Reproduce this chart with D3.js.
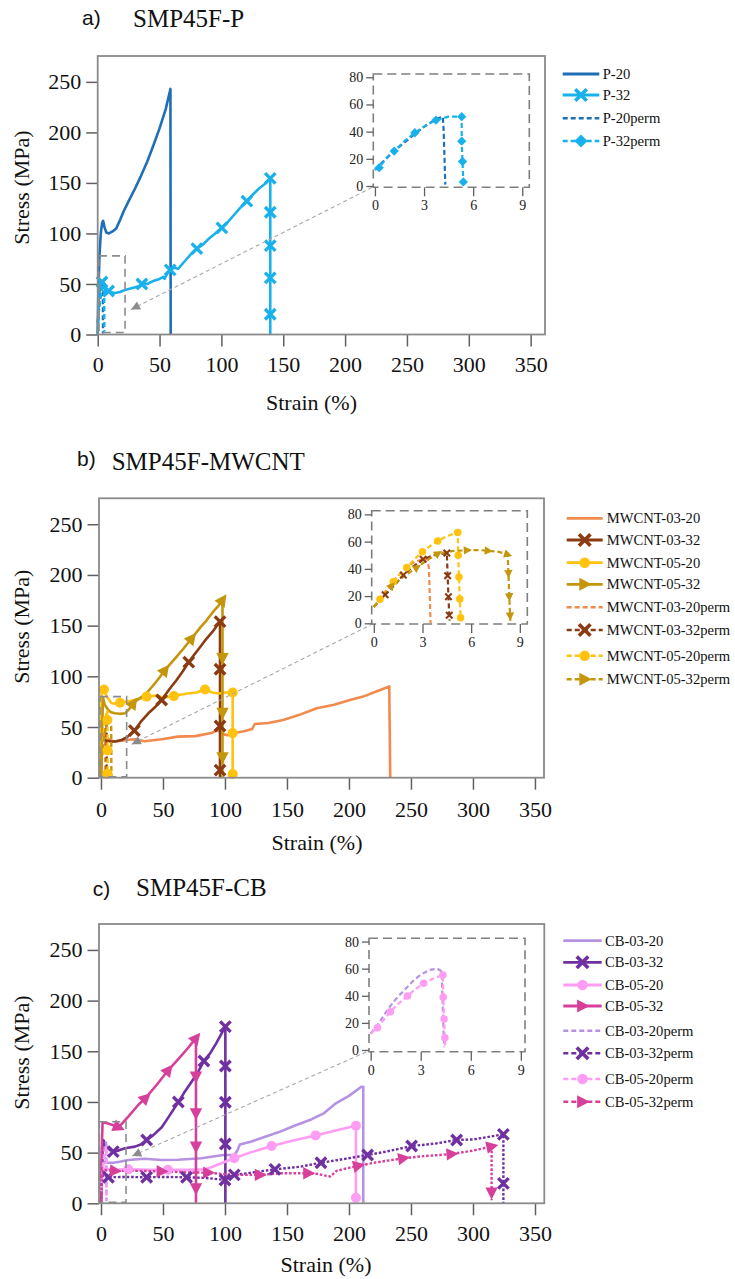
<!DOCTYPE html>
<html>
<head>
<meta charset="utf-8">
<script src="https://cdn.jsdelivr.net/npm/d3@7"></script>
<style>
  body { margin: 0; background: #fff; }
  svg { display: block; }
</style>
</head>
<body>
<svg id="fig" width="735" height="1279"></svg>
<script>
// ---------- axis ticks ----------
const strainTicks = [0, 50, 100, 150, 200, 250, 300, 350];
const stressTicks = [0, 50, 100, 150, 200, 250];
const insetStrainTicks = [0, 3, 6, 9];
const insetStressTicks = [0, 20, 40, 60, 80];

// ---------- SMP45F-P : [strain %, stress MPa] ----------
const p20 = [[0,0],[0.5,40],[1.5,80],[2.5,100],[3.5,110],[4.4,112.5],[5.5,106],[7,101],[9,100],[12,102],[15,105],[18,113],[21,122],[25,132],[30,144],[35,157],[40,171],[45,187],[50,204],[55,223],[58.8,243],[59,0]];
const p32 = [[0,0],[1,35],[2,47],[3.5,52],[5,46],[7,43],[10,42],[14,41],[18,42],[22,44],[28,46],[34,48],[36,51],[40,50],[45,53],[50,55],[53,57],[54,55],[56,60],[58.6,64],[62,66],[65,65],[70,72],[75,79],[80,85],[85,89],[90,95],[95,100],[100,105.5],[105,111],[110,118],[115,125],[120.6,132],[125,138],[130,144],[135,149],[139.5,154.5],[139.5,0]];
const p32Marks = [[3.5,52],[8.8,43],[35.7,50],[58.6,64],[80.2,85],[100.4,105.5],[120.6,132],[139.5,154.5],[139.5,121],[139.5,88],[139.5,56],[139.5,20]];
const p20perm = [[0,12],[0.5,18],[1,24],[1.5,29],[2,34],[2.5,39],[3,43.5],[3.5,47.5],[3.9,50],[4.15,51],[4.2,40],[4.25,20],[4.3,1]];
const p32perm = [[0,12],[0.26,13.5],[0.6,19],[1.18,25.7],[1.8,33],[2.44,39.2],[3.1,44.5],[3.73,48.5],[4.5,51],[5.3,51],[5.3,33],[5.35,18],[5.4,3]];
const p32permMarks = [[0.26,13.5],[1.18,25.7],[2.44,39.2],[3.73,48.5],[5.3,51],[5.3,33],[5.35,18],[5.4,3]];

// ---------- SMP45F-MWCNT ----------
const m0320 = [[0,0],[0.4,30],[1,46],[3,42],[6,38],[11,35.5],[16,36.5],[22,37.5],[28,38],[35,36],[49,38],[62,40.5],[76,41],[89,44],[94,47],[98,43],[102,42],[108,44],[116,46],[122,48],[124,53],[135,54],[147,57],[160,62],[174,68.5],[188,72],[200.8,76.6],[211.5,80],[222,85],[232.5,90],[233.3,0]];
const m0332 = [[0,0],[0.5,39],[4,37],[8.6,35.5],[12,36],[16.7,37.2],[21,40],[26.9,46.4],[32,55],[38.2,63.5],[44,70],[48.9,76.7],[55,87],[61,96.4],[66,105],[70.8,114],[75,121],[80,129],[85,137],[90,144],[96,154],[96,0]];
const m0332Marks = [[26.9,46.4],[48.9,76.7],[70.8,114],[96,154],[96,107],[96,51],[96,7.5]];
const m0520 = [[0,0],[0.5,86.5],[2.4,87],[4.6,80],[8.6,73.4],[12,73],[15.3,74],[20,75],[25,76],[32.8,78.3],[36.8,80],[45,81],[50,79],[58.8,80.5],[65,82],[70,83],[77,84],[83.9,87],[90,84],[95,83],[100,84],[106.2,84],[106.2,2]];
const m0520Marks = [[2.4,87],[15.3,74],[36.8,80],[58.8,80.5],[83.9,87],[106.2,84],[106.2,44],[106.2,3.6]];
const m0532 = [[0,0],[0.8,40],[1.6,79],[3,72],[5.9,66.8],[8,64.5],[11.3,63.5],[15,63],[19.4,63.5],[23,68],[26,73.4],[30,77.5],[35.5,81.6],[43.5,93],[51.6,106],[55,111],[60,118],[65,125],[73.2,137.5],[80,148],[85,155],[90,163],[95,170],[98,175.3],[98,0]];
const m0532Marks = [[26,73.4],[51.6,106],[73.2,137.5],[98,175.3],[98,118],[98,64],[98,20]];
const m0320perm = [[0,12],[0.5,20],[1,28],[1.5,35],[2,41],[2.5,45],[3,47],[3.3,47.5],[3.4,40],[3.45,20],[3.5,0]];
const m0332perm = [[0,12],[0.7,21],[1.2,27],[1.82,35.4],[2.4,41.5],[3.04,47],[3.7,50],[4.5,51.7],[4.55,34.9],[4.6,19.5],[4.65,6],[4.67,2]];
const m0332permMarks = [[0.7,21],[1.82,35.4],[3.04,47],[4.5,51.7],[4.55,34.9],[4.6,19.5],[4.65,6]];
const m0520perm = [[0,12],[0.38,17.6],[0.8,24],[1.2,30.5],[1.6,36],[2.03,41],[2.5,47],[3,52.5],[3.5,57],[3.94,60.5],[4.5,64],[5.17,66.7],[5.2,50],[5.25,34],[5.3,17.8],[5.35,4.1]];
const m0520permMarks = [[0.38,17.6],[1.2,30.5],[2.03,41],[3,52.5],[3.94,60.5],[5.17,66.7],[5.2,50],[5.25,34],[5.3,17.8],[5.35,4.1]];
const m0520permMainMarks = [[5.2,57],[5.25,27],[5.3,4]];
const m0532perm = [[0,12],[0.5,19],[1.1,27.5],[1.8,34],[2.66,41],[3.3,46.5],[3.96,51.3],[4.8,53],[5.76,53.7],[6.5,53.8],[7.05,53.2],[7.7,52.5],[8.25,50.5],[8.3,36.6],[8.35,19.5],[8.4,5.4],[8.42,1]];
const m0532permMarks = [[1.1,27.5],[2.66,41],[3.96,51.3],[5.76,53.7],[7.05,53.2],[8.25,50.5],[8.3,36.6],[8.35,19.5],[8.4,5.4]];

// ---------- SMP45F-CB ----------
const c0320 = [[0,0],[0.5,25],[1,45],[2,41],[5,40],[10,40],[15,41],[22,42.7],[35,44],[49,42.7],[62,43],[81,44.5],[98.6,47.7],[107.5,47.7],[110,52],[112,58],[121.5,61],[133,66],[143,70],[155,76],[170,83],[180,89],[188.7,98],[200,106],[210,115],[211.5,115],[211.5,0]];
const c0332 = [[0,0],[1,45],[1.9,62.5],[4,56],[7.3,52.6],[9.9,51],[14,52],[19.4,54.3],[27.4,55.9],[32,58],[36.8,62.5],[42,67],[49,75],[55,86],[62.4,100],[67,109],[72,118],[78,129],[83,140.4],[88,148],[93,158],[100.3,174.3],[100.3,0]];
const c0332Marks = [[9.9,51],[36.8,62.5],[62.4,100],[83,140.4],[100.3,174.3],[100.3,135.5],[100.3,99.7],[100.3,58.5]];
const c0520 = [[0,0],[0.5,20],[1,34],[3,34],[10,33],[22,33.5],[40,33],[54,33],[70,33],[84,33.5],[90,36],[97,39.5],[107.5,44.4],[120,50],[137.6,56.5],[155,62],[173.1,67],[190,72],[205.6,76.6],[205.6,5.5]];
const c0520Marks = [[22,33.5],[54,33],[107.5,44.4],[137.6,56.5],[173.1,67],[205.6,76.6],[205.6,5.5]];
const c0532 = [[0,0],[0.5,50],[1.3,80],[5,79],[10,77],[14,75],[18,80],[22,85.5],[30,97],[36,104],[45,117],[54.3,131.5],[60,139],[65,146],[70,153],[76.6,163],[76.6,0]];
const c0532Marks = [[14,75],[36,104],[54.3,131.5],[76.6,163],[76.6,125],[76.6,88.8],[76.6,55.9],[76.6,14.8]];
const c0320perm = [[0,12],[0.5,20],[1,29.5],[1.5,37.5],[2,44],[2.6,51.7],[3,55.5],[3.5,59],[4,60],[4.25,58],[4.3,40],[4.35,20],[4.4,2]];
const c0520perm = [[0,12],[0.4,16.5],[0.8,22.5],[1.18,28.3],[1.7,34.5],[2.2,39.9],[2.7,45],[3.17,49.2],[3.8,53],[4.33,55.4],[4.35,38.9],[4.4,22.9],[4.45,9.1],[4.47,3]];
const c0520permMarks = [[0.4,16.5],[1.18,28.3],[2.2,39.9],[3.17,49.2],[4.33,55.4],[4.35,38.9],[4.4,22.9],[4.45,9.1]];
const c0332perm = [[0,0],[0.5,20],[1.5,28],[6,25.7],[20,26],[36.8,25.7],[50,26],[69,25.7],[85,25],[100,23],[104,26],[107.5,28],[120,30],[140.3,33.5],[160,36],[177.4,40],[195,43.5],[215,47.7],[230,51],[250.5,56.5],[270,59],[286.8,62.5],[300,63],[310,65],[324.5,68],[324.5,0]];
const c0332permMarks = [[6,25.7],[36.8,25.7],[69,25.7],[100,23],[107.5,28],[140.3,33.5],[177.4,40],[215,47.7],[250.5,56.5],[286.8,62.5],[324.5,68],[324.5,19.7]];
const c0532perm = [[0,0],[0.5,25],[1.5,33],[11.3,32],[30,32],[49,31.5],[70,30.5],[86.5,30.2],[102.7,28.5],[115,28],[128.2,28],[145.7,29.6],[167.2,29.6],[175,29],[180,27.5],[185,26.5],[190,32],[200,35],[207.5,37],[220,40],[243.8,44.4],[260,46.5],[282.8,48.6],[300,52],[315,56],[315,3]];
const c0532permMarks = [[11.3,32],[49,31.5],[86.5,30.2],[128.2,28],[167.2,29.6],[207.5,37],[243.8,44.4],[282.8,48.6],[315,56],[315,10.5]];

// zoom windows marked in the main plots: [strainMin, strainMax, stressMin, stressMax]
const zoomBoxA = [1, 22.1, 2, 77.8];
const zoomBoxB = [-0.8, 20.7, 1, 80];
const zoomBoxC = [-1.4, 20.2, 1, 80.5];
// where the pointer arrow ends in each main plot: [strain, stress]
const arrowTipA = [26.9, 24.7];
const arrowTipB = [24.8, 33];
const arrowTipC = [25.2, 46.7];

// ---------- colours ----------
const COL = {
  p20: '#1f6fb6', p32: '#19b1ec',
  m0320: '#f28a4e', m0332: '#8a3b12', m0520: '#ffc20e', m0532: '#c3960d',
  c0320: '#b592e2', c0332: '#7030a0', c0520: '#ff9cf4', c0532: '#d6409b'
};

const SERIF = '"Liberation Serif","Times New Roman",Times,serif';
const SANS = '"Liberation Sans",Arial,sans-serif';
const svg = d3.select('#fig');

// arrowhead used by the zoom pointer (points back toward the zoom window)
svg.append('defs').append('marker')
  .attr('id', 'arrowHead').attr('viewBox', '0 0 10 10')
  .attr('refX', 10).attr('refY', 5)
  .attr('markerWidth', 10).attr('markerHeight', 9)
  .attr('markerUnits', 'userSpaceOnUse')
  .attr('orient', 'auto-start-reverse')
  .append('path').attr('d', 'M0,0 L10,5 L0,10 Z').attr('fill', '#8c8c8c');

// direction (degrees) of the curve at a marker, in screen space
function dirAt(pts, m, xs, ys) {
  let best = Infinity, ang = 0;
  const mx = xs(m[0]), my = ys(m[1]);
  for (let i = 0; i < pts.length - 1; i++) {
    const ax = xs(pts[i][0]), ay = ys(pts[i][1]);
    const bx = xs(pts[i + 1][0]), by = ys(pts[i + 1][1]);
    const dx = bx - ax, dy = by - ay, L2 = dx * dx + dy * dy;
    if (L2 === 0) continue;
    let t = ((mx - ax) * dx + (my - ay) * dy) / L2;
    t = Math.max(0, Math.min(1, t));
    const d = Math.hypot(ax + t * dx - mx, ay + t * dy - my);
    if (d < best - 0.5) { best = d; ang = Math.atan2(dy, dx) * 180 / Math.PI; }
  }
  return ang;
}

function drawMarker(g, type, px, py, size, color, ang) {
  if (type === 'x') {
    const a = size * 0.5;
    g.append('path')
      .attr('d', `M${-a},${-a}L${a},${a}M${-a},${a}L${a},${-a}`)
      .attr('transform', `translate(${px},${py})`)
      .attr('stroke', color).attr('stroke-width', size * 0.32).attr('fill', 'none');
  } else if (type === 'circle') {
    g.append('circle').attr('cx', px).attr('cy', py).attr('r', size * 0.5).attr('fill', color);
  } else if (type === 'diamond') {
    const r = size * 0.55;
    g.append('path').attr('d', `M0,${-r}L${r},0L0,${r}L${-r},0Z`)
      .attr('transform', `translate(${px},${py})`).attr('fill', color);
  } else if (type === 'tri') {
    const r = size * 0.55;
    g.append('path').attr('d', `M${r},0L${-r * 0.75},${-r * 0.9}L${-r * 0.75},${r * 0.9}Z`)
      .attr('transform', `translate(${px},${py}) rotate(${ang || 0})`).attr('fill', color);
  }
}

const DASH = { solid: null, dash: '5,3', dot: '2.6,1.8' };

function drawPanel(cfg) {
  const f = cfg.frame;
  const x = d3.scaleLinear().domain([f.x0, f.x1]).range([f.L, f.R]);
  const y = d3.scaleLinear().domain([0, f.y1]).range([f.B, f.T]);
  const g = svg.append('g');

  // titles
  g.append('text').attr('x', cfg.tag.x).attr('y', cfg.tag.y)
    .attr('font-family', SANS).attr('font-size', 21).attr('fill', '#111').text(cfg.tag.text);
  g.append('text').attr('x', cfg.title.x).attr('y', cfg.title.y)
    .attr('font-family', SERIF).attr('font-size', 25).attr('fill', '#111').text(cfg.title.text);

  // axes
  const ax = g.append('g').attr('transform', `translate(0,${f.B})`)
    .call(d3.axisBottom(x).tickValues(strainTicks).tickSize(12).tickSizeOuter(0).tickPadding(cfg.xPad));
  const ay = g.append('g').attr('transform', `translate(${f.L},0)`)
    .call(d3.axisLeft(y).tickValues(stressTicks).tickSize(11.5).tickSizeOuter(0).tickPadding(5));
  [ax, ay].forEach(a => {
    a.attr('font-family', SERIF);
    a.select('.domain').remove();
    a.selectAll('line').attr('stroke', '#606060').attr('stroke-width', 1.5);
    a.selectAll('text').attr('font-family', SERIF).attr('font-size', 22).attr('fill', '#111');
  });

  // axis titles
  g.append('text').attr('transform', `translate(${cfg.yTitle[0]},${cfg.yTitle[1]}) rotate(-90)`)
    .attr('text-anchor', 'middle').attr('dy', '0.35em')
    .attr('font-family', SERIF).attr('font-size', 22).attr('fill', '#111').text('Stress (MPa)');
  g.append('text').attr('x', cfg.xTitle[0]).attr('y', cfg.xTitle[1])
    .attr('text-anchor', 'middle')
    .attr('font-family', SERIF).attr('font-size', 22).attr('fill', '#111').text('Strain (%)');

  const line = d3.line().x(d => x(d[0])).y(d => y(d[1]));

  // main curves
  const curves = g.append('g');
  cfg.series.forEach(s => {
    const dash = s.mainDash || s.dash;
    curves.append('path').attr('d', line(s.pts)).attr('fill', 'none')
      .attr('stroke', s.color)
      .attr('stroke-width', dash === 'solid' ? 2.6 : 2.4)
      .attr('stroke-dasharray', DASH[dash])
      .attr('stroke-linejoin', 'round');
  });
  cfg.series.forEach(s => {
    (s.mainMarks || []).forEach(m => {
      drawMarker(curves, s.marker, x(m[0]), y(m[1]), { x: 10.5, circle: 10, tri: 12.5, diamond: 10 }[s.marker],
        s.color, dirAt(s.pts, m, x, y));
    });
  });

  // frame
  g.append('rect').attr('x', f.L).attr('y', f.T).attr('width', f.R - f.L).attr('height', f.B - f.T)
    .attr('fill', 'none').attr('stroke', '#8a8a8a').attr('stroke-width', 1.8);

  // zoom window and pointer
  const zb = cfg.zoomBox;
  g.append('rect').attr('x', x(zb[0])).attr('y', y(zb[3]))
    .attr('width', x(zb[1]) - x(zb[0])).attr('height', y(zb[2]) - y(zb[3]))
    .attr('fill', 'none').attr('stroke', '#8c8c8c').attr('stroke-width', 1.6).attr('stroke-dasharray', '8,5');

  // inset
  const fi = cfg.inset;
  const xi = d3.scaleLinear().domain([fi.x0, fi.x1]).range([fi.L, fi.R]);
  const yi = d3.scaleLinear().domain([fi.y0, fi.y1]).range([fi.B, fi.T]);

  g.append('line')
    .attr('x1', x(cfg.arrowTip[0])).attr('y1', y(cfg.arrowTip[1]))
    .attr('x2', xi(0)).attr('y2', yi(0))
    .attr('stroke', '#a8a8a8').attr('stroke-width', 1.1).attr('stroke-dasharray', '4,3')
    .attr('marker-start', 'url(#arrowHead)');

  const gi = g.append('g');
  gi.append('rect').attr('x', fi.L).attr('y', fi.T).attr('width', fi.R - fi.L).attr('height', fi.B - fi.T)
    .attr('fill', '#fff').attr('stroke', '#7f7f7f').attr('stroke-width', 1.6).attr('stroke-dasharray', '9,5');
  const axi = gi.append('g').attr('transform', `translate(0,${fi.B})`)
    .call(d3.axisBottom(xi).tickValues(insetStrainTicks).tickSize(9).tickSizeOuter(0).tickPadding(4));
  const ayi = gi.append('g').attr('transform', `translate(${fi.L},0)`)
    .call(d3.axisLeft(yi).tickValues(insetStressTicks).tickSize(7).tickSizeOuter(0).tickPadding(3));
  [axi, ayi].forEach(a => {
    a.attr('font-family', SERIF);
    a.select('.domain').remove();
    a.selectAll('line').attr('stroke', '#606060').attr('stroke-width', 1.3);
    a.selectAll('text').attr('font-family', SERIF).attr('font-size', 14).attr('fill', '#222');
  });
  const iline = d3.line().x(d => xi(d[0])).y(d => yi(d[1]));
  cfg.series.filter(s => s.insetMarks !== undefined).forEach(s => {
    gi.append('path').attr('d', iline(s.pts)).attr('fill', 'none')
      .attr('stroke', s.color).attr('stroke-width', 2.2)
      .attr('stroke-dasharray', DASH.dash).attr('stroke-linejoin', 'round');
  });
  cfg.series.filter(s => s.insetMarks !== undefined).forEach(s => {
    s.insetMarks.forEach(m => {
      drawMarker(gi, s.marker, xi(m[0]), yi(m[1]), { x: 6.5, circle: 7.5, tri: 8.5, diamond: 8.5 }[s.marker],
        s.color, dirAt(s.pts, m, xi, yi));
    });
  });

  // legend
  const lg = cfg.legend;
  cfg.series.forEach((s, i) => {
    const yy = lg.rows[i];
    g.append('line').attr('x1', lg.x1).attr('x2', lg.x2).attr('y1', yy).attr('y2', yy)
      .attr('stroke', s.color).attr('stroke-width', s.dash === 'solid' ? 2.8 : 2.4)
      .attr('stroke-dasharray', DASH[s.dash === 'solid' ? 'solid' : 'dash']);
    if (s.marker) drawMarker(g, s.marker, (lg.x1 + lg.x2) / 2, yy,
      { x: 11.5, circle: 10.5, tri: 13, diamond: 12 }[s.marker], s.color, 0);
    g.append('text').attr('x', lg.tx).attr('y', yy).attr('dy', '0.35em')
      .attr('font-family', SERIF).attr('font-size', 14.6).attr('fill', '#111').text(s.name);
  });
}

// ---------- panel a ----------
drawPanel({
  tag: { text: 'a)', x: 82, y: 24.5 },
  title: { text: 'SMP45F-P', x: 133, y: 27 },
  frame: { L: 97.7, R: 545, T: 56, B: 334.5, x0: 0, x1: 361.6, y1: 275.6 },
  xPad: 10, yTitle: [21, 187.5], xTitle: [311.5, 410],
  zoomBox: zoomBoxA, arrowTip: arrowTipA,
  inset: { L: 373.3, R: 529.3, T: 74, B: 187.3, x0: -0.1, x1: 9.43, y0: -0.96, y1: 82.4 },
  legend: { x1: 562.7, x2: 599.3, tx: 602.7, rows: [74, 95, 118.3, 141] },
  series: [
    { name: 'P-20', color: COL.p20, dash: 'solid', marker: null, pts: p20 },
    { name: 'P-32', color: COL.p32, dash: 'solid', marker: 'x', pts: p32, mainMarks: p32Marks },
    { name: 'P-20perm', color: COL.p20, dash: 'dash', marker: null, pts: p20perm, insetMarks: [] },
    { name: 'P-32perm', color: COL.p32, dash: 'dash', marker: 'diamond', pts: p32perm, insetMarks: p32permMarks }
  ]
});

// ---------- panel b ----------
drawPanel({
  tag: { text: 'b)', x: 77, y: 465.5 },
  title: { text: 'SMP45F-MWCNT', x: 111.7, y: 470 },
  frame: { L: 99, R: 544, T: 498.3, B: 777.7, x0: -1.6, x1: 357.3, y1: 275.6 },
  xPad: 11.5, yTitle: [21, 626.7], xTitle: [317, 850],
  zoomBox: zoomBoxB, arrowTip: arrowTipB,
  inset: { L: 371.7, R: 527.3, T: 510.7, B: 624, x0: -0.13, x1: 9.46, y0: -0.5, y1: 82.7 },
  legend: { x1: 566.7, x2: 602.7, tx: 606.7, rows: [518.3, 540, 562.7, 584.3, 607.3, 630, 655.7, 679.3] },
  series: [
    { name: 'MWCNT-03-20', color: COL.m0320, dash: 'solid', marker: null, pts: m0320 },
    { name: 'MWCNT-03-32', color: COL.m0332, dash: 'solid', marker: 'x', pts: m0332, mainMarks: m0332Marks },
    { name: 'MWCNT-05-20', color: COL.m0520, dash: 'solid', marker: 'circle', pts: m0520, mainMarks: m0520Marks },
    { name: 'MWCNT-05-32', color: COL.m0532, dash: 'solid', marker: 'tri', pts: m0532, mainMarks: m0532Marks },
    { name: 'MWCNT-03-20perm', color: COL.m0320, dash: 'dash', marker: null, pts: m0320perm, insetMarks: [] },
    { name: 'MWCNT-03-32perm', color: COL.m0332, dash: 'dash', marker: 'x', pts: m0332perm, insetMarks: m0332permMarks },
    { name: 'MWCNT-05-20perm', color: COL.m0520, dash: 'dash', marker: 'circle', pts: m0520perm, insetMarks: m0520permMarks, mainMarks: m0520permMainMarks },
    { name: 'MWCNT-05-32perm', color: COL.m0532, dash: 'dash', marker: 'tri', pts: m0532perm, insetMarks: m0532permMarks }
  ]
});

// ---------- panel c ----------
drawPanel({
  tag: { text: 'c)', x: 92.7, y: 895.5 },
  title: { text: 'SMP45F-CB', x: 136, y: 896 },
  frame: { L: 99, R: 544.3, T: 924, B: 1203.3, x0: -1.6, x1: 357.5, y1: 275.6 },
  xPad: 10, yTitle: [21, 1052.5], xTitle: [326, 1271.7],
  zoomBox: zoomBoxC, arrowTip: arrowTipC,
  inset: { L: 369, R: 525, T: 938.3, B: 1051.7, x0: -0.1, x1: 9.25, y0: -1.25, y1: 82.4 },
  legend: { x1: 563.3, x2: 601.7, tx: 605, rows: [940.7, 962.3, 985, 1006, 1030.7, 1053.3, 1079, 1101.7] },
  series: [
    { name: 'CB-03-20', color: COL.c0320, dash: 'solid', marker: null, pts: c0320 },
    { name: 'CB-03-32', color: COL.c0332, dash: 'solid', marker: 'x', pts: c0332, mainMarks: c0332Marks },
    { name: 'CB-05-20', color: COL.c0520, dash: 'solid', marker: 'circle', pts: c0520, mainMarks: c0520Marks },
    { name: 'CB-05-32', color: COL.c0532, dash: 'solid', marker: 'tri', pts: c0532, mainMarks: c0532Marks },
    { name: 'CB-03-20perm', color: COL.c0320, dash: 'dash', marker: null, pts: c0320perm, insetMarks: [] },
    { name: 'CB-03-32perm', color: COL.c0332, dash: 'dash', mainDash: 'dot', marker: 'x', pts: c0332perm, mainMarks: c0332permMarks },
    { name: 'CB-05-20perm', color: COL.c0520, dash: 'dash', marker: 'circle', pts: c0520perm, insetMarks: c0520permMarks },
    { name: 'CB-05-32perm', color: COL.c0532, dash: 'dash', mainDash: 'dot', marker: 'tri', pts: c0532perm, mainMarks: c0532permMarks }
  ]
});
</script>
</body>
</html>
